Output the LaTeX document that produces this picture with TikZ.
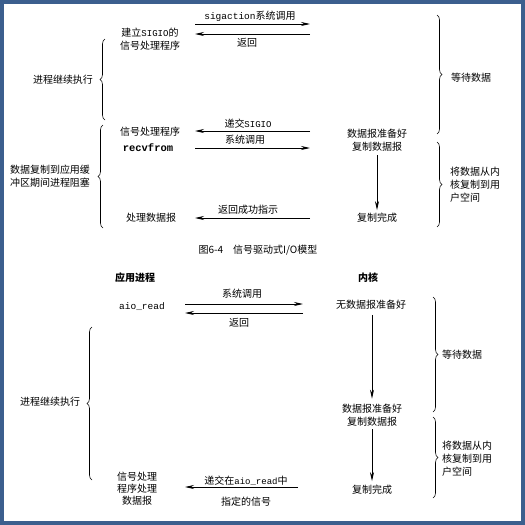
\documentclass[tikz,border=0pt]{standalone}
\usepackage{fontspec}
\newfontfamily\cjk{Noto Sans CJK SC}
\setmonofont{Liberation Mono}
\usetikzlibrary{arrows.meta,decorations.pathreplacing}
\definecolor{frameblue}{HTML}{3C5F8E}
\begin{document}
\begin{tikzpicture}[x=1pt,y=1pt,
  txt/.style={font=\cjk\fontsize{10}{13}\selectfont, inner sep=0pt, align=center},
  hdr/.style={font=\cjk\bfseries\fontsize{10}{13}\selectfont, inner sep=0pt},
  arr/.style={draw, line width=0.8pt, -{Stealth[length=9pt,width=4pt]}},
  brc/.style={draw, line width=0.6pt, decorate, decoration={brace, amplitude=5pt}},
  tt/.style={font=\ttfamily\fontsize{9.5}{12}\selectfont, inner sep=0pt}
]
\useasboundingbox (0,0) rectangle (525,-525);
\fill[white] (0,0) rectangle (525,-525);
\draw[frameblue, line width=4pt] (2,-2) rectangle (523,-523);

% ===== Top diagram =====
\node[txt] (setup) at (150,-39.5) {建立{\ttfamily\fontsize{9}{12}\selectfont SIGIO}的\\信号处理程序};
\node[txt] (sigact) at (250,-16) {{\ttfamily\fontsize{9.5}{12}\selectfont sigaction}系统调用};
\coordinate (a1s) at (195,-24); \coordinate (a1e) at (310,-24);
\coordinate (a2s) at (310,-34); \coordinate (a2e) at (195,-34);
\draw[arr] (a1s) -- (a1e);
\draw[arr] (a2s) -- (a2e);
\node[txt] (ret1) at (247,-43) {返回};

\coordinate (lb1b) at (105,-120); \coordinate (lb1t) at (105,-39);
\draw[brc] (lb1b) -- (lb1t);
\node[txt] (cont1) at (63,-80) {进程继续执行};

\coordinate (rb1t) at (437,-15); \coordinate (rb1b) at (437,-134);
\draw[brc] (rb1t) -- (rb1b);
\node[txt] (wait1) at (471,-78) {等待数据};

\node[txt] (deliv) at (248,-124) {递交{\ttfamily\fontsize{9}{12}\selectfont SIGIO}};
\coordinate (a3s) at (310,-131); \coordinate (a3e) at (195,-131);
\draw[arr] (a3s) -- (a3e);
\node[txt] (sighand) at (150,-132) {信号处理程序};
\node[font=\ttfamily\bfseries\fontsize{10.5}{12}\selectfont, inner sep=0pt] (recv) at (148,-148) {recvfrom};
\node[txt] (syscall2) at (245,-140) {系统调用};
\coordinate (a4s) at (195,-148); \coordinate (a4e) at (310,-148);
\draw[arr] (a4s) -- (a4e);

\node[txt] (kready1) at (377,-140) {数据报准备好\\复制数据报};
\node[txt] (kdone1) at (377,-218) {复制完成};
\draw[arr, shorten <=4pt, shorten >=3pt] (kready1) -- (kdone1);

\node[txt] (retok) at (248,-210) {返回成功指示};
\coordinate (a5s) at (310,-218); \coordinate (a5e) at (195,-218);
\draw[arr] (a5s) -- (a5e);
\node[txt] (proc1) at (151,-218) {处理数据报};

\coordinate (lb2b) at (103,-228); \coordinate (lb2t) at (103,-125);
\draw[brc] (lb2b) -- (lb2t);
\node[txt] (block) at (50,-176) {数据复制到应用缓\\冲区期间进程阻塞};

\coordinate (rb2t) at (437,-142); \coordinate (rb2b) at (437,-227);
\draw[brc] (rb2t) -- (rb2b);
\node[txt, align=left, anchor=west] (copy1) at (450,-185) {将数据从内\\核复制到用\\户空间};

\node[txt] (cap) at (258,-250) {图6-4\quad 信号驱动式I/O模型};

% ===== Bottom diagram =====
\node[hdr] (app) at (135,-278) {应用进程};
\node[hdr] (kern) at (368,-278) {内核};

\node[tt] (aio) at (142,-307) {aio\_read};
\node[txt] (syscall3) at (242,-294) {系统调用};
\coordinate (b1s) at (185,-304); \coordinate (b1e) at (303,-304);
\draw[arr] (b1s) -- (b1e);
\coordinate (b2s) at (303,-313); \coordinate (b2e) at (185,-313);
\draw[arr] (b2s) -- (b2e);
\node[txt] (ret3) at (239,-323) {返回};

\node[txt] (nodata) at (371,-305) {无数据报准备好};
\node[txt] (kready2) at (372,-415) {数据报准备好\\复制数据报};
\node[txt] (kdone2) at (372,-490) {复制完成};
\draw[arr, shorten <=5pt, shorten >=5pt] (nodata.south -| kready2.north) -- (kready2.north);
\draw[arr, shorten <=3pt, shorten >=4pt] (kready2) -- (kdone2);

\coordinate (rb3t) at (433,-297); \coordinate (rb3b) at (433,-412);
\draw[brc] (rb3t) -- (rb3b);
\node[txt, anchor=west] (wait2) at (442,-355) {等待数据};

\coordinate (rb4t) at (433,-417); \coordinate (rb4b) at (433,-498);
\draw[brc] (rb4t) -- (rb4b);
\node[txt, align=left, anchor=west] (copy2) at (442,-459) {将数据从内\\核复制到用\\户空间};

\coordinate (lb3b) at (92,-480); \coordinate (lb3t) at (92,-327);
\draw[brc] (lb3b) -- (lb3t);
\node[txt] (cont2) at (50,-402) {进程继续执行};

\node[txt, font=\cjk\fontsize{10}{11.8}\selectfont] (proc2) at (137,-488.5) {信号处理\\程序处理\\数据报};
\node[txt] (deliv2) at (246,-481) {递交在{\ttfamily\fontsize{9}{12}\selectfont aio\_read}中};
\coordinate (b3s) at (298,-487); \coordinate (b3e) at (185,-487);
\draw[arr] (b3s) -- (b3e);
\node[txt] (sig) at (246,-502) {指定的信号};
\end{tikzpicture}
\end{document}
